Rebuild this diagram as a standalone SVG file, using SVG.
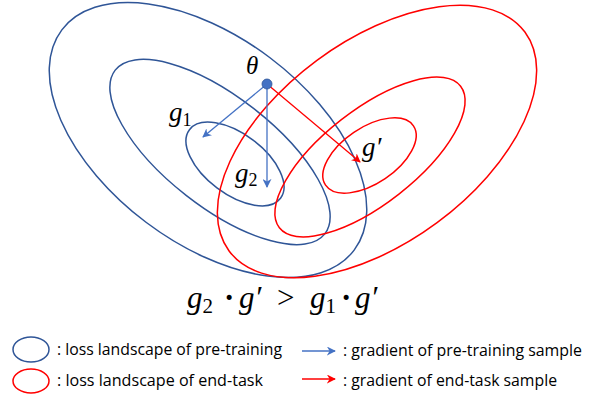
<svg xmlns="http://www.w3.org/2000/svg" width="592" height="396" viewBox="0 0 592 396">
<style>
.eb{fill:none;stroke:#2F5597;stroke-width:1.5}
.er{fill:none;stroke:#FF0000;stroke-width:1.5}
.ab{stroke:#4472C4;stroke-width:1.3;fill:none}
.ar{stroke:#FF0000;stroke-width:1.3;fill:none}
.m{font-family:"Liberation Serif","DejaVu Serif",serif;font-style:italic;fill:#000}
.sub{font-style:normal}
.dot{font-style:normal;font-weight:bold}
.lg{font-family:"Open Sans","Liberation Sans",sans-serif;font-size:16px;fill:#000}
</style>
<defs>
<marker id="hb" viewBox="0 0 10 10" refX="9" refY="5" markerWidth="9" markerHeight="9" markerUnits="userSpaceOnUse" orient="auto">
<path d="M0,0 L10,5 L0,10 L3,5 z" fill="#4472C4"/>
</marker>
<marker id="hr" viewBox="0 0 10 10" refX="9" refY="5" markerWidth="9" markerHeight="9" markerUnits="userSpaceOnUse" orient="auto">
<path d="M0,0 L10,5 L0,10 L3,5 z" fill="#FF0000"/>
</marker>
</defs>
<g id="pretrain-landscape">
<ellipse class="eb" cx="208" cy="140" rx="183" ry="103" transform="rotate(37 208 140)"/>
<ellipse class="eb" cx="220" cy="152" rx="133" ry="55" transform="rotate(38 220 152)"/>
<ellipse class="eb" cx="235" cy="164" rx="57" ry="30" transform="rotate(37 235 164)"/>
</g>
<g id="endtask-landscape">
<ellipse class="er" cx="377" cy="141.5" rx="184" ry="101" transform="rotate(-36.5 377 141.5)"/>
<ellipse class="er" cx="370" cy="157" rx="115" ry="47" transform="rotate(-38 370 157)"/>
<ellipse class="er" cx="369.5" cy="155.5" rx="53" ry="28" transform="rotate(-34 369.5 155.5)"/>
</g>
<g id="connectors">
<line class="ab" x1="267" y1="84" x2="203" y2="137" marker-end="url(#hb)"/>
<line class="ab" x1="267" y1="84" x2="267" y2="187" marker-end="url(#hb)"/>
<line class="ar" x1="267" y1="84" x2="360" y2="162" marker-end="url(#hr)"/>
</g>
<g id="theta">
<circle cx="267" cy="84" r="5" fill="#4472C4" stroke="#2F5597" stroke-width="0.8"/>
<text class="m" x="246" y="74" font-size="25">θ</text>
</g>
<g id="label-g1">
<text class="m" x="169" y="121" font-size="27">g<tspan class="sub" font-size="18" dy="5">1</tspan></text>
</g>
<g id="label-g2">
<text class="m" x="235" y="182" font-size="27">g<tspan class="sub" font-size="18" dy="4">2</tspan></text>
</g>
<g id="label-gprime">
<text class="m" x="362" y="156" font-size="27">g′</text>
</g>
<g id="formula">
<text class="m" y="308" font-size="31"><tspan x="187">g</tspan><tspan class="sub" font-size="21" dy="5">2</tspan><tspan class="dot" x="224" dy="-5">·</tspan><tspan x="239">g′</tspan><tspan font-style="normal" x="277">&gt;</tspan><tspan x="310">g</tspan><tspan class="sub" font-size="21" dy="5">1</tspan><tspan class="dot" x="341" dy="-5">·</tspan><tspan x="355">g′</tspan></text>
</g>
<g id="legend">
<ellipse class="eb" cx="31" cy="349.5" rx="18" ry="12.5"/>
<text class="lg" x="57" y="355" textLength="225" lengthAdjust="spacingAndGlyphs">: loss landscape of pre-training</text>
<ellipse class="er" cx="31" cy="381" rx="18" ry="12"/>
<text class="lg" x="57" y="386" textLength="206" lengthAdjust="spacingAndGlyphs">: loss landscape of end-task</text>
<line class="ab" x1="302" y1="351" x2="335" y2="351" marker-end="url(#hb)"/>
<text class="lg" x="343" y="356" textLength="239" lengthAdjust="spacingAndGlyphs">: gradient of pre-training sample</text>
<line class="ar" x1="302" y1="379" x2="335" y2="379" marker-end="url(#hr)"/>
<text class="lg" x="343" y="386" textLength="214" lengthAdjust="spacingAndGlyphs">: gradient of end-task sample</text>
</g>
</svg>
